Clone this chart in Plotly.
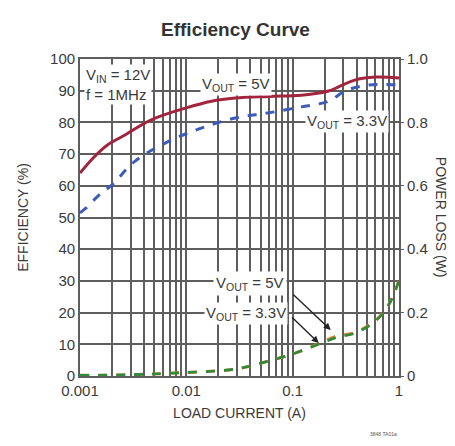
import plotly.graph_objects as go

# Efficiency data (load current in A, efficiency in %)
i_eff5 = [0.001, 0.00135, 0.0018, 0.00254, 0.00468, 0.0098, 0.0172, 0.029, 0.06, 0.121, 0.218, 0.27, 0.39, 0.6, 1.0]
eff5 = [64.0, 69.0, 72.8, 75.7, 80.8, 84.5, 86.7, 87.7, 88.2, 88.6, 89.9, 91.2, 93.4, 94.3, 94.0]

i_eff33 = [0.001, 0.00114, 0.0015, 0.002, 0.0033, 0.0068, 0.0138, 0.029, 0.059, 0.121, 0.218, 0.316, 0.52, 1.0]
eff33 = [51.5, 53.0, 57.0, 60.3, 67.8, 74.0, 78.2, 81.4, 83.0, 84.9, 86.7, 90.0, 91.8, 91.8]

# Power loss data (W)
i_loss = [0.001, 0.003, 0.0084, 0.029, 0.059, 0.107, 0.188, 0.25, 0.39, 0.6, 0.8, 1.0]
loss5 = [0.002, 0.004, 0.010, 0.022, 0.047, 0.073, 0.106, 0.124, 0.138, 0.175, 0.226, 0.302]
loss33 = [0.002, 0.004, 0.010, 0.022, 0.047, 0.073, 0.104, 0.120, 0.136, 0.173, 0.224, 0.300]

x_tick_vals = [0.001, 0.01, 0.1, 1]
x_tick_text = ["0.001", "0.01", "0.1", "1"]
y_left_ticks = [0, 10, 20, 30, 40, 50, 60, 70, 80, 90, 100]
y_right_ticks = [0, 0.2, 0.4, 0.6, 0.8, 1.0]
y_right_text = ["0", "0.2", "0.4", "0.6", "0.8", "1.0"]

FONT = "Liberation Sans Narrow, Arial Narrow, Liberation Sans, sans-serif"
GRID = "#5e5e5e"
TXT = "#3a3a3a"

# all minor grid positions for a log axis
grid_vals = []
grid_text = []
for dec in [0.001, 0.01, 0.1]:
    for m in range(1, 10):
        grid_vals.append(dec * m)
        grid_text.append(x_tick_text[x_tick_vals.index(dec)] if m == 1 else "")
grid_vals.append(1)
grid_text.append("1")

fig = go.Figure()

fig.add_trace(go.Scatter(x=i_loss, y=loss5, yaxis="y2", mode="lines",
                         line=dict(color="#d4862b", width=3, dash="dash", shape="spline"),
                         showlegend=False))
fig.add_trace(go.Scatter(x=i_loss, y=loss33, yaxis="y2", mode="lines",
                         line=dict(color="#2f8a3c", width=2.6, dash="dash", shape="spline"),
                         showlegend=False))
fig.add_trace(go.Scatter(x=i_eff33, y=eff33, mode="lines",
                         line=dict(color="#3c5cb8", width=3, dash="dash", shape="spline"),
                         showlegend=False))
fig.add_trace(go.Scatter(x=i_eff5, y=eff5, mode="lines",
                         line=dict(color="#a3243f", width=3, shape="spline"),
                         showlegend=False))

ann_font = dict(family=FONT, size=15, color=TXT)
fig.update_layout(
    width=455, height=446,
    margin=dict(l=72, r=64, t=51, b=78),
    paper_bgcolor="white", plot_bgcolor="white",
    font=dict(family=FONT, size=14, color=TXT),
    title=dict(text="<b>Efficiency Curve</b>", x=0.5, xanchor="center", y=0.952, yanchor="middle",
               font=dict(family=FONT, size=19, color="#333")),
    xaxis=dict(type="log", range=[-3, 0], tickvals=grid_vals, ticktext=grid_text,
               showgrid=True, gridcolor=GRID, gridwidth=1.5, ticks="",
               showline=True, linecolor=GRID, linewidth=1.8, mirror=True,
               tickfont=dict(family=FONT, size=15, color=TXT),
               title=dict(text="LOAD CURRENT (A)", font=dict(family=FONT, size=14, color=TXT), standoff=10),
               zeroline=False),
    yaxis=dict(range=[0, 100], tickvals=y_left_ticks, showgrid=True, gridcolor=GRID, gridwidth=1.5,
               ticks="", showline=True, linecolor=GRID, linewidth=1.8, mirror=True,
               tickfont=dict(family=FONT, size=15, color=TXT), zeroline=False,
               title=dict(text="EFFICIENCY (%)", font=dict(family=FONT, size=14, color=TXT), standoff=18)),
    yaxis2=dict(range=[0, 1], overlaying="y", side="right", tickvals=y_right_ticks, ticktext=y_right_text,
                showgrid=False, ticks="outside", ticklen=4, tickcolor=GRID, zeroline=False,
                tickfont=dict(family=FONT, size=15, color=TXT)),
)

# right axis title reading top to bottom
fig.add_annotation(text="POWER LOSS (W)", xref="paper", yref="paper", x=1.165, y=0.5,
                   textangle=90, showarrow=False, font=dict(family=FONT, size=14, color=TXT))

# text labels with white boxes
fig.add_annotation(text="V<sub>IN</sub> = 12V<br>f = 1MHz", xref="x", yref="y",
                   x=-2.96, y=98.5, xanchor="left", yanchor="top", align="left",
                   showarrow=False, bgcolor="white", font=ann_font, borderpad=1)
fig.add_annotation(text="V<sub>OUT</sub> = 5V", xref="x", yref="y",
                   x=-1.53, y=92.1, showarrow=False, bgcolor="white", font=ann_font, borderpad=1)
fig.add_annotation(text="V<sub>OUT</sub> = 3.3V", xref="x", yref="y",
                   x=-0.49, y=80.4, showarrow=False, bgcolor="white", font=ann_font, borderpad=1)
fig.add_annotation(text="V<sub>OUT</sub> = 5V", xref="x", yref="y",
                   x=-1.40, y=29.3, showarrow=False, bgcolor="white", font=ann_font, borderpad=2)
fig.add_annotation(text="V<sub>OUT</sub> = 3.3V", xref="x", yref="y",
                   x=-1.44, y=19.6, showarrow=False, bgcolor="white", font=ann_font, borderpad=1)

# arrows pointing to the loss curves
fig.add_annotation(text="", xref="x", yref="y", x=-0.642, y=14.5, ax=-39, ay=-37,
                   showarrow=True, arrowhead=2, arrowsize=1, arrowwidth=1.4, arrowcolor="#222")
fig.add_annotation(text="", xref="x", yref="y", x=-0.755, y=10.4, ax=-28, ay=-27,
                   showarrow=True, arrowhead=2, arrowsize=1, arrowwidth=1.4, arrowcolor="#222")

# figure code
fig.add_annotation(text="3848 TA01a", xref="paper", yref="paper", x=1.0, y=-0.2,
                   xanchor="right", showarrow=False, font=dict(family=FONT, size=5, color="#555"))

fig.write_html("out.html")
